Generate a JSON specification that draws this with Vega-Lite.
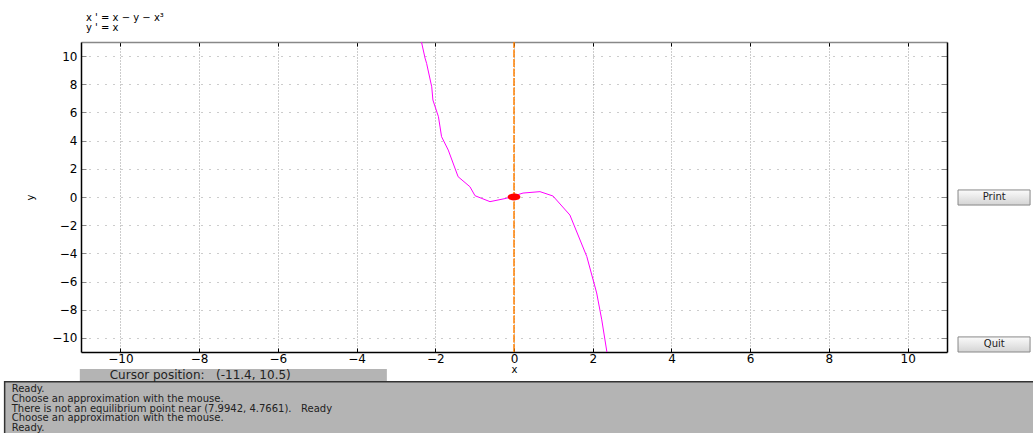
{
  "$schema": "https://vega.github.io/schema/vega-lite/v6.json",
  "width": 866,
  "height": 310,
  "autosize": {"type": "none"},
  "padding": {"left": 81, "top": 42, "right": 86, "bottom": 81},
  "background": "white",
  "config": {"view": {"stroke": null}, "font": "DejaVu Sans"},
  "title": {
    "text": ["x ' = x − y − x³", "y ' = x"],
    "anchor": "start",
    "frame": "group",
    "font": "DejaVu Sans",
    "fontSize": 10,
    "fontWeight": "normal",
    "lineHeight": 10,
    "offset": 6,
    "dx": 5,
    "color": "black"
  },
  "resolve": {"axis": {"x": "independent", "y": "independent"}},
  "layer": [
    {
      "data": {"values": [
        {"i": 1, "x": -2.35, "y": 11.0},
        {"i": 2, "x": -2.26, "y": 9.86},
        {"i": 3, "x": -2.22, "y": 9.48},
        {"i": 4, "x": -2.09, "y": 7.82},
        {"i": 5, "x": -2.06, "y": 6.88},
        {"i": 6, "x": -1.92, "y": 5.7},
        {"i": 7, "x": -1.84, "y": 4.28},
        {"i": 8, "x": -1.67, "y": 3.33},
        {"i": 9, "x": -1.42, "y": 1.44},
        {"i": 10, "x": -1.12, "y": 0.73},
        {"i": 11, "x": -0.99, "y": 0.09},
        {"i": 12, "x": -0.61, "y": -0.33},
        {"i": 13, "x": -0.19, "y": -0.09},
        {"i": 14, "x": 0.23, "y": 0.28},
        {"i": 15, "x": 0.66, "y": 0.38},
        {"i": 16, "x": 0.99, "y": 0.07},
        {"i": 17, "x": 1.42, "y": -1.28},
        {"i": 18, "x": 1.85, "y": -4.23},
        {"i": 19, "x": 2.10, "y": -6.81},
        {"i": 20, "x": 2.23, "y": -8.72},
        {"i": 21, "x": 2.36, "y": -11.0}
      ]},
      "mark": {"type": "line", "color": "#ff00ff", "strokeWidth": 1, "clip": true},
      "encoding": {
        "x": {"field": "x", "type": "quantitative",
          "scale": {"domain": [-11, 11], "nice": false, "zero": false},
          "axis": {"orient": "bottom", "values": [-10, -8, -6, -4, -2, 0, 2, 4, 6, 8, 10],
            "title": "x", "titleFont": "DejaVu Sans", "titleFontSize": 10, "titleFontWeight": "normal", "titleColor": "black", "titlePadding": 0,
            "labelFont": "DejaVu Sans", "labelFontSize": 12, "labelColor": "black", "labelPadding": 5,
            "tickSize": -4, "tickColor": "black", "domainColor": "black", "domainWidth": 1.5,
            "grid": true, "gridColor": "#999", "gridDash": [1, 2], "gridWidth": 1}},
        "y": {"field": "y", "type": "quantitative",
          "scale": {"domain": [-11, 11], "nice": false, "zero": false},
          "axis": {"orient": "left", "values": [-10, -8, -6, -4, -2, 0, 2, 4, 6, 8, 10],
            "title": "y", "titleFont": "DejaVu Sans", "titleFontSize": 10, "titleFontWeight": "normal", "titleColor": "black", "titlePadding": 16,
            "labelFont": "DejaVu Sans", "labelFontSize": 12, "labelColor": "black", "labelPadding": 9,
            "tickSize": -5, "tickColor": "#888", "domainColor": "black", "domainWidth": 1.5,
            "grid": true, "gridColor": "#999", "gridDash": [1, 7], "gridWidth": 1}},
        "order": {"field": "i"}
      }
    },
    {
      "data": {"values": [{"x": 0, "y": -11}, {"x": 0, "y": 11}]},
      "mark": {"type": "line", "color": "#ff8000", "strokeWidth": 1.5, "strokeDash": [8, 1.5]},
      "encoding": {
        "x": {"field": "x", "type": "quantitative",
          "scale": {"domain": [-11, 11], "nice": false, "zero": false},
          "axis": {"orient": "top", "values": [-10, -8, -6, -4, -2, 0, 2, 4, 6, 8, 10], "labels": false, "title": null, "grid": false,
            "tickSize": -4, "tickColor": "black", "domainColor": "#888", "domainWidth": 1.5}},
        "y": {"field": "y", "type": "quantitative",
          "scale": {"domain": [-11, 11], "nice": false, "zero": false},
          "axis": {"orient": "right", "values": [-10, -8, -6, -4, -2, 0, 2, 4, 6, 8, 10], "labels": false, "title": null, "grid": false,
            "tickSize": -6, "tickColor": "#888", "domainColor": "black", "domainWidth": 1.5}}
      }
    },
    {
      "data": {"values": [{"x": 0, "y": 0}]},
      "mark": {"type": "point", "filled": true, "color": "#ff0000", "opacity": 1, "size": 72,
        "shape": "M-1.5,0A1.5,0.8,0,1,0,1.5,0A1.5,0.8,0,1,0,-1.5,0Z"},
      "encoding": {
        "x": {"field": "x", "type": "quantitative", "scale": {"domain": [-11, 11], "nice": false, "zero": false}, "axis": null},
        "y": {"field": "y", "type": "quantitative", "scale": {"domain": [-11, 11], "nice": false, "zero": false}, "axis": null}
      }
    },
    {
      "data": {"values": [{"panel": "status"}]},
      "mark": {"type": "rect", "fill": "#b4b4b4", "stroke": "#333", "strokeWidth": 1.5},
      "encoding": {
        "x": {"datum": -12.94, "type": "quantitative", "scale": {"domain": [-11, 11], "nice": false, "zero": false}, "axis": null},
        "x2": {"datum": 13.3},
        "y": {"datum": -13.12, "type": "quantitative", "scale": {"domain": [-11, 11], "nice": false, "zero": false}, "axis": null},
        "y2": {"datum": -17.5}
      }
    },
    {
      "data": {"values": [{"panel": "cursor"}]},
      "mark": {"type": "rect", "fill": "#b4b4b4"},
      "encoding": {
        "x": {"datum": -11.03, "type": "quantitative", "scale": {"domain": [-11, 11], "nice": false, "zero": false}, "axis": null},
        "x2": {"datum": -3.23},
        "y": {"datum": -12.2, "type": "quantitative", "scale": {"domain": [-11, 11], "nice": false, "zero": false}, "axis": null},
        "y2": {"datum": -13.05}
      }
    },
    {
      "data": {"values": [{"msg": "Cursor position:\u00a0\u00a0\u00a0(-11.4, 10.5)"}]},
      "mark": {"type": "text", "align": "left", "baseline": "middle", "font": "DejaVu Sans", "fontSize": 12, "color": "#222"},
      "encoding": {
        "x": {"datum": -10.27, "type": "quantitative", "scale": {"domain": [-11, 11], "nice": false, "zero": false}, "axis": null},
        "y": {"datum": -12.66, "type": "quantitative", "scale": {"domain": [-11, 11], "nice": false, "zero": false}, "axis": null},
        "text": {"field": "msg"}
      }
    },
    {
      "data": {"values": [{"panel": "log"}]},
      "mark": {"type": "text", "align": "left", "baseline": "top", "font": "DejaVu Sans", "fontSize": 10, "lineHeight": 9.6, "color": "#222"},
      "encoding": {
        "x": {"datum": -12.76, "type": "quantitative", "scale": {"domain": [-11, 11], "nice": false, "zero": false}, "axis": null},
        "y": {"datum": -13.3, "type": "quantitative", "scale": {"domain": [-11, 11], "nice": false, "zero": false}, "axis": null},
        "text": {"value": ["Ready.", "Choose an approximation with the mouse.", "There is not an equilibrium point near (7.9942, 4.7661).\u00a0\u00a0\u00a0Ready", "Choose an approximation with the mouse.", "Ready."]}
      }
    },
    {
      "data": {"values": [{"label": "Print", "top": 0.5, "bottom": -0.57, "mid": 0}, {"label": "Quit", "top": -9.93, "bottom": -11.0, "mid": -10.46}]},
      "layer": [
        {
          "mark": {"type": "rect", "stroke": "#888", "strokeWidth": 1,
            "fill": {"gradient": "linear", "x1": 0, "y1": 0, "x2": 0, "y2": 1,
              "stops": [{"offset": 0, "color": "#fbfbfb"}, {"offset": 1, "color": "#d4d4d4"}]}},
          "encoding": {
            "x": {"datum": 11.28, "type": "quantitative", "scale": {"domain": [-11, 11], "nice": false, "zero": false}, "axis": null},
            "x2": {"datum": 13.11},
            "y": {"field": "top", "type": "quantitative", "scale": {"domain": [-11, 11], "nice": false, "zero": false}, "axis": null},
            "y2": {"field": "bottom"}
          }
        },
        {
          "mark": {"type": "text", "align": "center", "baseline": "middle", "font": "DejaVu Sans", "fontSize": 10, "color": "#222"},
          "encoding": {
            "x": {"datum": 12.2, "type": "quantitative", "scale": {"domain": [-11, 11], "nice": false, "zero": false}, "axis": null},
            "y": {"field": "mid", "type": "quantitative", "scale": {"domain": [-11, 11], "nice": false, "zero": false}, "axis": null},
            "text": {"field": "label"}
          }
        }
      ]
    }
  ]
}
